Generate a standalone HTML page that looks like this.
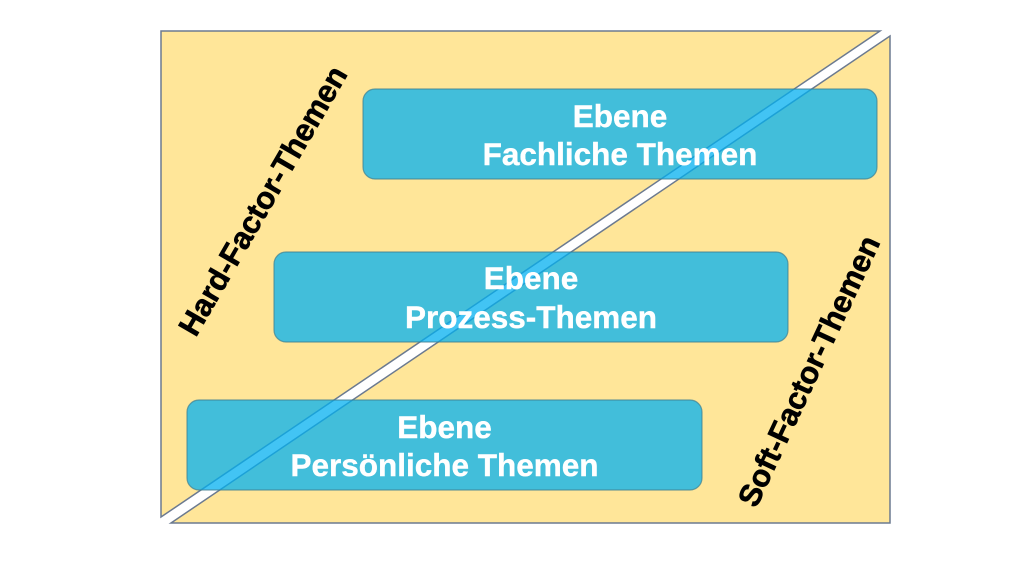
<!DOCTYPE html>
<html>
<head>
<meta charset="utf-8">
<style>
  html, body { margin: 0; padding: 0; background: #ffffff; }
  body { width: 1024px; height: 576px; overflow: hidden; }
  svg { display: block; }
  text { font-family: "Liberation Sans", Arial, sans-serif; font-weight: bold; }
</style>
</head>
<body>
<svg width="1024" height="576" viewBox="0 0 1024 576" xmlns="http://www.w3.org/2000/svg">
  <rect x="0" y="0" width="1024" height="576" fill="#ffffff"/>
  <!-- upper-left triangle -->
  <polygon points="161,31 880,31 161,517" fill="#ffe699" stroke="#6b7a90" stroke-width="1.5" stroke-linejoin="miter"/>
  <!-- lower-right triangle -->
  <polygon points="890,36 890,523 171,523" fill="#ffe699" stroke="#6b7a90" stroke-width="1.5" stroke-linejoin="miter"/>

  <!-- boxes (semi-transparent) -->
  <g fill="#00b0f0" fill-opacity="0.74" stroke="#3f7f90" stroke-opacity="0.7" stroke-width="1.2">
    <rect x="363" y="89" width="514" height="90" rx="12" ry="12"/>
    <rect x="274" y="252" width="514" height="90" rx="12" ry="12"/>
    <rect x="187" y="400" width="515" height="90" rx="12" ry="12"/>
  </g>

  <g fill="#ffffff" stroke="#ffffff" stroke-width="0.4" font-size="31.5" text-anchor="middle">
    <text x="620" y="127">Ebene</text>
    <text x="620" y="165">Fachliche Themen</text>
    <text x="531" y="289">Ebene</text>
    <text x="531" y="328">Prozess-Themen</text>
    <text x="444.5" y="438">Ebene</text>
    <text x="444.5" y="476">Persönliche Themen</text>
  </g>

  <g fill="#000000" stroke="#000000" stroke-width="0.6" font-size="31" text-anchor="middle">
    <text x="272" y="206" transform="rotate(-60 272 206)">Hard-Factor-Themen</text>
    <text x="818.5" y="375.5" transform="rotate(-65 818.5 375.5)">Soft-Factor-Themen</text>
  </g>
</svg>
</body>
</html>
